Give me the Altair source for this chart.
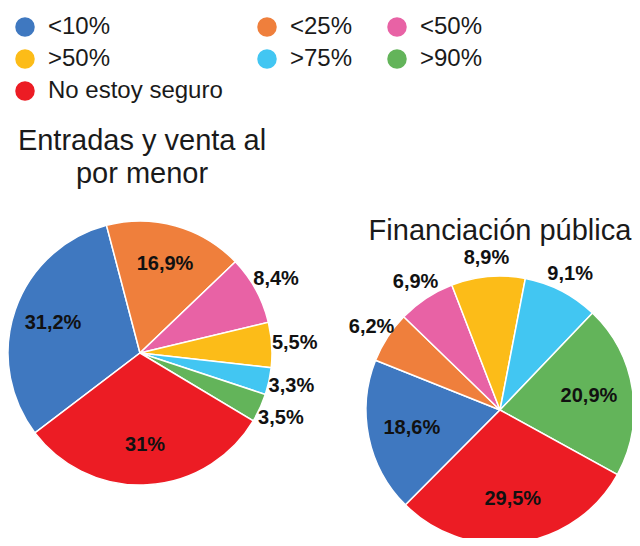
import math
import altair as alt
import pandas as pd

categories = ["<10%", "<25%", "<50%", ">50%", ">75%", ">90%", "No estoy seguro"]
colors = ["#3F78C0", "#EF7F3C", "#E862A5", "#FCBC18", "#42C6F2", "#63B45A", "#EC1C24"]
clockwise_rank = [7, 1, 2, 3, 4, 5, 6]

entradas = [31.2, 16.9, 8.4, 5.5, 3.3, 3.5, 31.0]
financiacion = [18.6, 6.2, 6.9, 8.9, 9.1, 20.9, 29.5]

titles = ["Entradas y venta al\npor menor", "Financiación pública"]

FONT = "Liberation Sans"


def fmt(v):
    return f"{v:g}".replace(".", ",") + "%"


def frame(values):
    return pd.DataFrame({
        "cat": categories,
        "value": values,
        "rank": clockwise_rank,
        "label": [fmt(v) for v in values],
    })


color = alt.Color(
    "cat:N",
    scale=alt.Scale(domain=categories, range=colors),
    legend=alt.Legend(
        title=None, orient="none", legendX=5, legendY=7, columns=3,
        direction="horizontal",
        symbolType="circle", symbolSize=380, symbolStrokeWidth=0,
        labelFontSize=24, labelFont=FONT, labelColor="#1a1a1a", labelLimit=400,
        columnPadding=32, rowPadding=8, labelOffset=11, padding=0,
    ),
)


def pie(values, cx, cy, r, start_deg, r_in, r_out):
    start = math.radians(start_deg)
    tscale = alt.Scale(range=[start, start + 2 * math.pi])
    base = alt.Chart(frame(values))
    arcs = base.mark_arc(outerRadius=r, stroke="white", strokeWidth=1.5).encode(
        theta=alt.Theta("value:Q", stack=True, scale=tscale),
        order=alt.Order("rank:Q", sort="ascending"),
        color=color,
        x=alt.value(cx),
        y=alt.value(cy),
    )
    txt = base.transform_window(
        cum="sum(value)", sort=[alt.SortField("rank", order="ascending")]
    ).transform_calculate(mid="datum.cum - datum.value / 2")
    inside = txt.transform_filter("datum.value > 10").mark_text(
        radius=r_in, font=FONT, fontWeight="bold", fontSize=20, color="#111111",
        align="center", baseline="middle",
    ).encode(
        theta=alt.Theta("mid:Q", stack=None, scale=tscale),
        text="label:N", x=alt.value(cx), y=alt.value(cy),
    )
    outside = txt.transform_filter("datum.value <= 10").mark_text(
        radius=r_out, font=FONT, fontWeight="bold", fontSize=20, color="#111111",
        align="center", baseline="middle",
    ).encode(
        theta=alt.Theta("mid:Q", stack=None, scale=tscale),
        text="label:N", x=alt.value(cx), y=alt.value(cy),
    )
    return alt.layer(arcs, inside, outside)


left = pie(entradas, 132, 345, 132, -14.7, 92, 155)
right = pie(financiacion, 492, 402, 134, -68.2, 90, 153)

t_left = alt.Chart(pd.DataFrame({"t": [titles[0]]})).mark_text(
    font=FONT, fontSize=29, lineBreak="\n", lineHeight=33, color="#1a1a1a",
    align="center", baseline="alphabetic",
).encode(text="t:N", x=alt.value(134), y=alt.value(142))

t_right = alt.Chart(pd.DataFrame({"t": [titles[1]]})).mark_text(
    font=FONT, fontSize=29, color="#1a1a1a", align="center", baseline="alphabetic",
).encode(text="t:N", x=alt.value(492), y=alt.value(232))

chart = alt.layer(left, right, t_left, t_right).resolve_scale(
    theta="independent"
).properties(
    width=624, height=530, autosize="none", padding=0
).configure_view(strokeWidth=0)

chart.save("out.html", embed_options={"renderer": "svg", "actions": False})
